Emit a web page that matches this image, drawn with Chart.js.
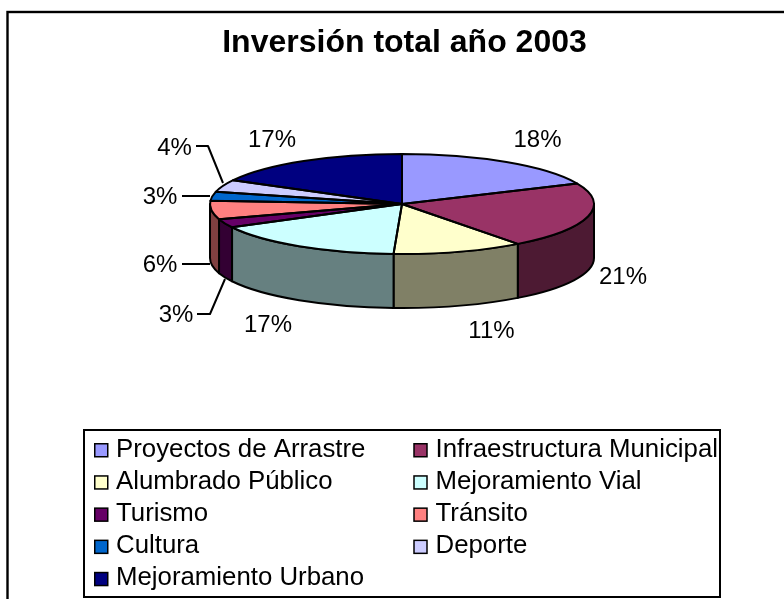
<!DOCTYPE html>
<html>
<head>
<meta charset="utf-8">
<title>Inversión total año 2003</title>
<script src="https://cdn.jsdelivr.net/npm/chart.js@4"></script>
<style>
  html, body { margin: 0; padding: 0; background: #fff; }
  #wrap { width: 784px; height: 599px; overflow: hidden; }
</style>
</head>
<body>
<div id="wrap"><canvas id="chart" width="784" height="599"></canvas></div>
<script>
const categories = ['Proyectos de Arrastre', 'Infraestructura Municipal', 'Alumbrado Público', 'Mejoramiento Vial', 'Turismo', 'Tránsito', 'Cultura', 'Deporte', 'Mejoramiento Urbano']
const shares = [18.3, 21.4, 11, 16.6, 2.8, 5.9, 2.9, 4, 17.1]
const colors = ['#9999ff', '#993366', '#ffffcc', '#ccffff', '#660066', '#ff8080', '#0066cc', '#ccccff', '#000080']

const FONT = '"Liberation Sans", Arial, sans-serif'

// flattened pie: the arcs come from the library, only the view is squashed
const tilt = 50 / 192
const depth = 54
// title sits 2.5px right of the pie in the original
const nudge = -2.5

// text centres of the percent labels, same order as categories
const labelSpots = [[537.5, 140], [623, 277], [491.5, 331], [268, 325.5], [176, 315], [160, 265.5], [160, 197], [174.5, 148], [272, 140]]
const leaders = [
  [[197, 314], [210, 314], [225, 279]],
  [[182, 264], [210, 264]],
  [[182, 196], [210, 196]],
  [[196, 146], [208, 146], [223, 183]]
]

function darken(hex) {
  const n = parseInt(hex.slice(1), 16)
  const half = v => Math.round(v / 2)
  return `rgb(${half(n >> 16)}, ${half((n >> 8) & 255)}, ${half(n & 255)})`
}

const pie3d = {
  id: 'pie3d',
  beforeDatasetsDraw(chart) {
    const ctx = chart.ctx
    const arcs = chart.getDatasetMeta(0).data
    const { x, y, outerRadius } = arcs[0]
    const ry = outerRadius * tilt

    // walls, only the front half of the rim shows
    ctx.save()
    ctx.lineWidth = 2
    ctx.strokeStyle = '#000'
    ctx.lineJoin = 'round'
    arcs.forEach((arc, i) => {
      const a = Math.max(arc.startAngle, 0)
      const b = Math.min(arc.endAngle, Math.PI)
      if (b <= a) return
      ctx.beginPath()
      ctx.ellipse(x + nudge, y, outerRadius, ry, 0, a, b)
      ctx.ellipse(x + nudge, y + depth, outerRadius, ry, 0, b, a, true)
      ctx.closePath()
      ctx.fillStyle = darken(colors[i])
      ctx.fill()
      ctx.stroke()
    })
    ctx.restore()

    ctx.save()
    ctx.translate(x + nudge, y)
    ctx.scale(1, tilt)
    ctx.translate(-x, -y)
  },
  afterDatasetsDraw(chart) {
    const ctx = chart.ctx
    ctx.restore()

    const arcs = chart.getDatasetMeta(0).data
    const { x, y, outerRadius } = arcs[0]
    ctx.save()
    ctx.lineWidth = 2
    ctx.strokeStyle = '#000'
    ctx.lineJoin = 'round'
    arcs.forEach(arc => {
      ctx.beginPath()
      ctx.moveTo(x + nudge, y)
      ctx.ellipse(x + nudge, y, outerRadius, outerRadius * tilt, 0, arc.startAngle, arc.endAngle)
      ctx.closePath()
      ctx.stroke()
    })

    leaders.forEach(line => {
      ctx.beginPath()
      line.forEach(([px, py], i) => i ? ctx.lineTo(px, py) : ctx.moveTo(px, py))
      ctx.stroke()
    })

    const total = shares.reduce((a, b) => a + b, 0)
    ctx.fillStyle = '#000'
    ctx.font = '24px ' + FONT
    ctx.textAlign = 'center'
    ctx.textBaseline = 'middle'
    shares.forEach((v, i) => {
      ctx.fillText(Math.round(v / total * 100) + '%', labelSpots[i][0], labelSpots[i][1])
    })
    ctx.restore()
  }
}

// frame and two column legend box, the built-in legend can't lay out like this
const frameLegend = {
  id: 'frameLegend',
  afterDraw(chart) {
    const ctx = chart.ctx
    ctx.save()
    ctx.strokeStyle = '#000'
    ctx.lineWidth = 2.4
    ctx.strokeRect(7.5, 12, 800, 620)
    ctx.lineWidth = 2
    ctx.strokeRect(84, 430, 636, 167)

    ctx.font = '25.8px ' + FONT
    ctx.textBaseline = 'middle'
    ctx.textAlign = 'left'
    categories.forEach((name, i) => {
      const col = i % 2
      const row = Math.floor(i / 2)
      const top = 448 + row * 32.2
      const left = col ? 414 : 94.75
      ctx.fillStyle = colors[i]
      ctx.lineWidth = 1.5
      ctx.fillRect(left, top - 4.25, 13, 13)
      ctx.strokeRect(left, top - 4.25, 13, 13)
      ctx.fillStyle = '#000'
      ctx.fillText(name, col ? 435.5 : 116, top + 1.5)
    })
    ctx.restore()
  }
}

new Chart(document.getElementById('chart'), {
  type: 'pie',
  data: {
    labels: categories,
    datasets: [{
      data: shares,
      backgroundColor: colors,
      borderWidth: 0
    }]
  },
  options: {
    responsive: false,
    animation: false,
    layout: { padding: { left: 212.5, right: 187.5, top: 0, bottom: 203 } },
    plugins: {
      legend: { display: false },
      tooltip: { enabled: false },
      title: {
        display: true,
        text: 'Inversión total año 2003',
        color: '#000',
        font: { family: FONT, size: 32, weight: 'bold' },
        padding: { top: 24, bottom: -50.4 }
      }
    }
  },
  plugins: [pie3d, frameLegend]
})
</script>
</body>
</html>
